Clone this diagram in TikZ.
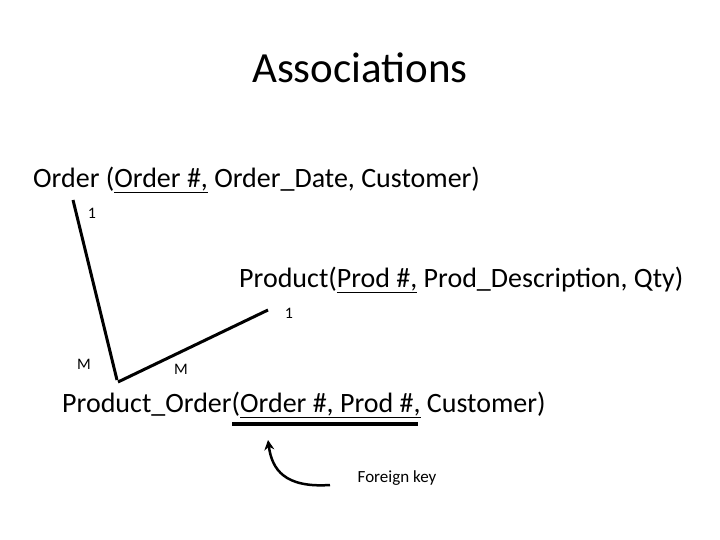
\documentclass[tikz,border=0pt]{standalone}
\usepackage{fontspec}
\setmainfont{Carlito}
\usetikzlibrary{arrows.meta}
\begin{document}
\begin{tikzpicture}[x=1pt,y=-1pt,
  big/.style={font=\fontsize{28}{32}\selectfont,inner sep=0pt},
  small/.style={font=\fontsize{16}{18}\selectfont,inner sep=0pt},
  rel/.style={line width=3pt}]
\useasboundingbox (0,0) rectangle (720,540);
\node[font=\fontsize{43}{48}\selectfont] (title) at (360,68) {Associations};
\node[big,anchor=west] (order) at (33,180) {Order (\underline{Order \#,} Order\_Date, Customer)};
\node[big,anchor=west] (prod) at (239,280) {Product(\underline{Prod \#,} Prod\_Description, Qty)};
\node[big,anchor=west] (po) at (62,405) {Product\_Order(\underline{Order \#, Prod \#,} Customer)};
\node[small] (o1) at (92,213) {1};
\node[small] (p1) at (289,313) {1};
\node[small] (m1) at (84,364) {M};
\node[small] (m2) at (181,369) {M};
\coordinate (a1) at (73,200);
\coordinate (a2) at (117,380);
\coordinate (b1) at (268,310);
\coordinate (b2) at (118,382);
\draw[rel] (a1) -- (a2);
\draw[rel] (b1) -- (b2);
\coordinate (u1) at (232,424);
\coordinate (u2) at (418,424);
\draw[line width=3.5pt] (u1) -- (u2);
\node[small,font=\fontsize{17}{19}\selectfont] (fk) at (397,478) {Foreign key};
\coordinate (c1) at (330,485);
\coordinate (c2) at (268,440);
\draw[line width=2.5pt,-{Stealth[length=10pt,width=10pt]}] (c1) .. controls (285,488) and (272,470) .. (c2);
\end{tikzpicture}
\end{document}
